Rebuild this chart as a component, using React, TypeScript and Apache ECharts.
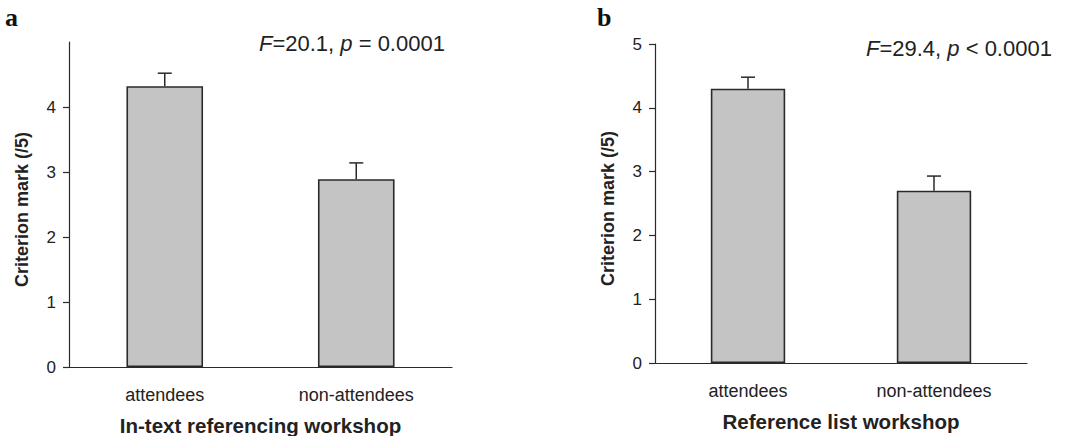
import React, { useEffect, useRef } from "react";
import * as echarts from "echarts";

const categories = ["attendees", "non-attendees"];
const meansA = [4.32, 2.89];
const errA = [0.2, 0.25];
const meansB = [4.3, 2.7];
const errB = [0.18, 0.23];
const yTicksA = [0, 1, 2, 3, 4];
const yTicksB = [0, 1, 2, 3, 4, 5];
const statA = "=20.1, ";
const statB = "=29.4, ";

const FONT = "'Liberation Sans', Arial, sans-serif";
const TXT = "#222";
const AX = "#2a2a2a";

function errData(means: number[], errs: number[]) {
  return means.map((m, i) => [i, m, m + errs[i]]);
}

function renderErr(params: any, api: any) {
  const x = api.value(0);
  const base = api.coord([x, api.value(1)]);
  const top = api.coord([x, api.value(2)]);
  const style = { stroke: AX, lineWidth: 1.5 };
  return {
    type: "group",
    children: [
      { type: "line", shape: { x1: base[0], y1: base[1], x2: top[0], y2: top[1] }, style },
      { type: "line", shape: { x1: top[0] - 7, y1: top[1], x2: top[0] + 7, y2: top[1] }, style },
    ],
  };
}

export default function App() {
  const ref = useRef<HTMLDivElement>(null);
  useEffect(() => {
    const chart = echarts.init(ref.current!, null, { renderer: "svg" });
    const xAxisBase = (idx: number, name: string) => ({
      type: "category",
      gridIndex: idx,
      data: categories,
      name,
      nameLocation: "middle",
      nameGap: 48,
      nameTextStyle: { fontFamily: FONT, fontWeight: "bold", fontSize: 20.5, color: TXT },
      axisLine: { lineStyle: { color: AX, width: 1.2 } },
      axisTick: { length: 6, lineStyle: { color: AX, width: 1.2 } },
      axisLabel: { fontFamily: FONT, fontSize: 18, color: TXT, margin: 19 },
    });
    const yAxisBase = (idx: number, ticks: number[], gap: number) => ({
      type: "value",
      gridIndex: idx,
      min: 0,
      max: 5,
      interval: 1,
      name: "Criterion mark (/5)",
      nameLocation: "middle",
      nameRotate: 90,
      nameGap: gap,
      nameTextStyle: { fontFamily: FONT, fontWeight: "bold", fontSize: 18, color: TXT, padding: [0, 10, 0, 0] },
      axisLine: { show: true, lineStyle: { color: AX, width: 1.2 } },
      axisTick: { show: true, length: 6, customValues: ticks, lineStyle: { color: AX, width: 1.2 } },
      axisLabel: { fontFamily: FONT, fontSize: 17, color: TXT, margin: 13, customValues: ticks },
      splitLine: { show: false },
    });
    const barStyle = { color: "#c4c4c4", borderColor: AX, borderWidth: 1.6 };
    const titleStyle = { fontFamily: "'Liberation Serif', serif", fontWeight: "bold", fontSize: 26, color: "#111" };
    chart.setOption({
      animation: false,
      backgroundColor: "#fff",
      title: [
        { text: "a", left: 5, top: 4, padding: 0, textStyle: titleStyle },
        { text: "b", left: 597, top: 4, padding: 0, textStyle: titleStyle },
      ],
      grid: [
        { left: 69, right: 628, top: 42, bottom: 69, outerBoundsMode: "none", containLabel: false },
        { left: 655, right: 53, top: 44, bottom: 73, outerBoundsMode: "none", containLabel: false },
      ],
      xAxis: [xAxisBase(0, "In-text referencing workshop"), xAxisBase(1, "Reference list workshop")],
      yAxis: [yAxisBase(0, yTicksA, 38), yAxisBase(1, yTicksB, 38)],
      series: [
        { type: "bar", xAxisIndex: 0, yAxisIndex: 0, data: meansA, barCategoryGap: "60%", itemStyle: barStyle },
        { type: "custom", xAxisIndex: 0, yAxisIndex: 0, data: errData(meansA, errA), renderItem: renderErr, z: 1 },
        { type: "bar", xAxisIndex: 1, yAxisIndex: 1, data: meansB, barCategoryGap: "60%", itemStyle: barStyle },
        { type: "custom", xAxisIndex: 1, yAxisIndex: 1, data: errData(meansB, errB), renderItem: renderErr, z: 1 },
      ],
      graphic: [
        {
          type: "text",
          left: 259,
          top: 32,
          style: {
            text: "{i|F}" + statA + "{i|p} = 0.0001",
            fontFamily: FONT,
            fontSize: 22,
            fill: TXT,
            rich: { i: { fontStyle: "italic", fontFamily: FONT, fontSize: 22, fill: TXT } },
          },
        },
        {
          type: "text",
          left: 866,
          top: 37,
          style: {
            text: "{i|F}" + statB + "{i|p} < 0.0001",
            fontFamily: FONT,
            fontSize: 22,
            fill: TXT,
            rich: { i: { fontStyle: "italic", fontFamily: FONT, fontSize: 22, fill: TXT } },
          },
        },
      ],
    });
    return () => chart.dispose();
  }, []);
  return <div ref={ref} style={{ position: "fixed", left: 0, top: 0, width: 1080, height: 436 }} />;
}
